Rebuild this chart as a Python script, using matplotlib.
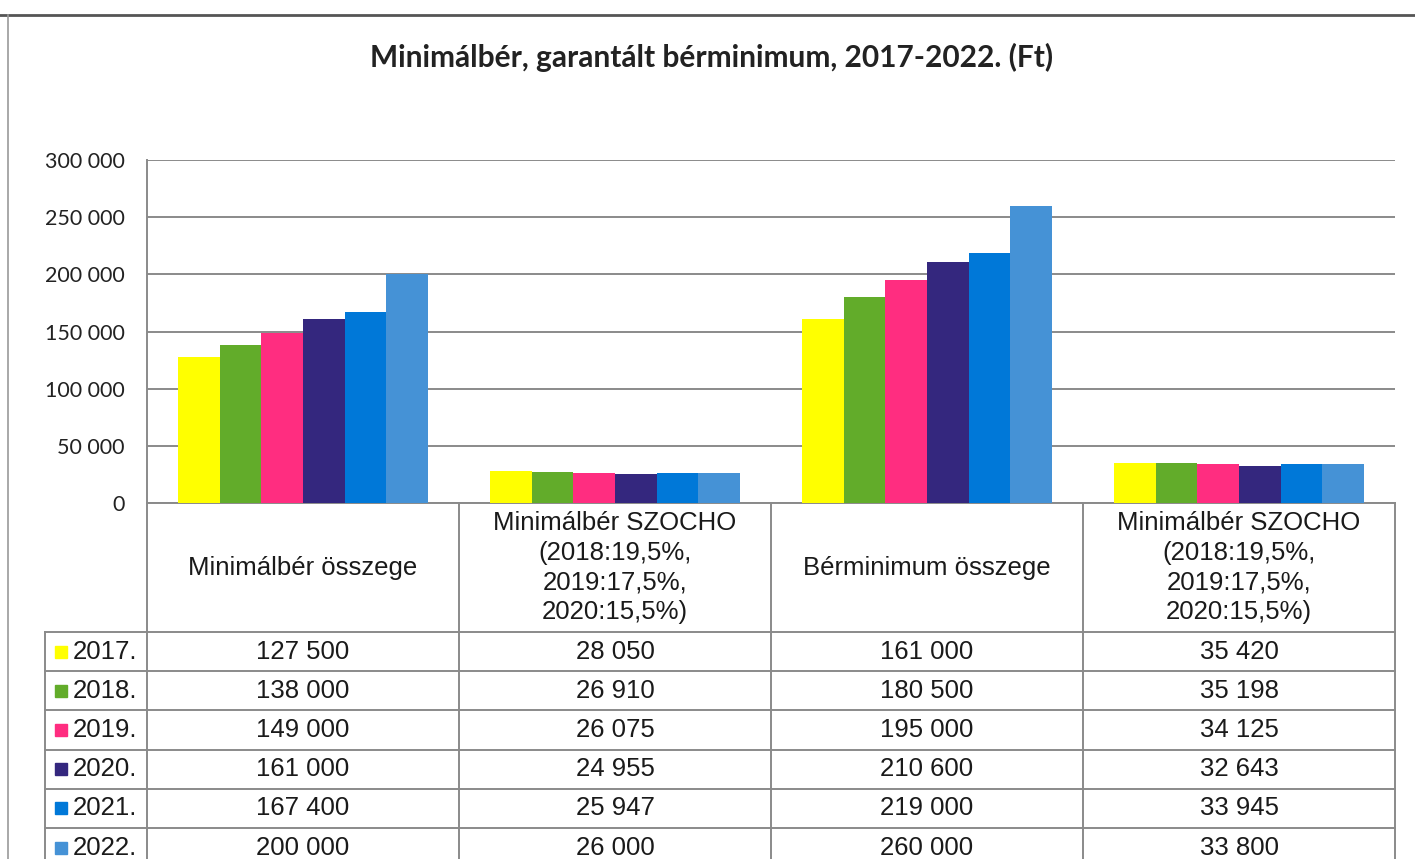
import matplotlib.pyplot as plt
import matplotlib.transforms as mtransforms
from matplotlib.lines import Line2D

# data
categories = ["Minimálbér összege",
              "Minimálbér SZOCHO\n(2018:19,5%,\n2019:17,5%,\n2020:15,5%)",
              "Bérminimum összege",
              "Minimálbér SZOCHO\n(2018:19,5%,\n2019:17,5%,\n2020:15,5%)"]
years = ["2017.", "2018.", "2019.", "2020.", "2021.", "2022."]
minimalber = [127500, 138000, 149000, 161000, 167400, 200000]
minimalber_szocho = [28050, 26910, 26075, 24955, 25947, 26000]
berminimum = [161000, 180500, 195000, 210600, 219000, 260000]
berminimum_szocho = [35420, 35198, 34125, 32643, 33945, 33800]
colors = ["#FFFF00", "#62AC2A", "#FF2D80", "#34277E", "#0078D8", "#4592D6"]

series = [minimalber, minimalber_szocho, berminimum, berminimum_szocho]

W, H = 1415, 859
fig = plt.figure(figsize=(W / 100, H / 100), dpi=100)
ax = fig.add_axes([147 / W, 1 - 503 / H, (1395 - 147) / W, 343 / H])

# bars: one colour per year
n = len(years)
bw = 0.8 / n
for i, y in enumerate(years):
    vals = [s[i] for s in series]
    xs = [c + (i - (n - 1) / 2) * bw for c in range(len(categories))]
    ax.bar(xs, vals, width=bw, color=colors[i], zorder=3)

ax.set_xlim(-0.5, 3.5)
ax.set_ylim(0, 300000)
ax.set_yticks(range(0, 300001, 50000))
ax.set_yticklabels([f"{v:,}".replace(",", " ") for v in range(0, 300001, 50000)],
                   fontfamily="Lato", fontsize=15.5, color="#222222")
ax.tick_params(axis="y", length=0, pad=16)
ax.set_xticks([])
ax.grid(axis="y", color="#8a8a8a", linewidth=1.4, zorder=0)
for sp in ["top", "right", "bottom"]:
    ax.spines[sp].set_visible(False)
ax.spines["left"].set_color("#8a8a8a")
ax.spines["left"].set_linewidth(1.4)

# data table under the plot
tr = mtransforms.blended_transform_factory(ax.transData, ax.transAxes)
lc = "#8a8a8a"
lw = 1.4
ax_h = 343
hdr_bot = -(632 - 503) / ax_h
row_h = 39.2 / ax_h
x_lab = -0.5 - (147 - 45) / 312
y_end = -(870 - 503) / ax_h
tfont = dict(fontfamily="Liberation Sans", fontsize=18.5, color="#1a1a1a")

def hline(x0, x1, y):
    ax.add_line(Line2D([x0, x1], [y, y], transform=tr, color=lc, lw=lw, clip_on=False))

def vline(x, y0, y1):
    ax.add_line(Line2D([x, x], [y0, y1], transform=tr, color=lc, lw=lw, clip_on=False))

hline(-0.5, 3.5, 0)
for b in [-0.5, 0.5, 1.5, 2.5, 3.5]:
    vline(b, 0, y_end)
vline(x_lab, hdr_bot, y_end)
for r in range(n + 1):
    hline(x_lab, 3.5, hdr_bot - r * row_h)

for c, name in enumerate(categories):
    ax.text(c, hdr_bot / 2, name, transform=tr, ha="center", va="center",
            linespacing=1.3, **tfont)

for r, y in enumerate(years):
    yc = hdr_bot - (r + 0.5) * row_h
    ax.plot([x_lab + 0.05], [yc], marker="s", markersize=8, color=colors[r],
            transform=tr, clip_on=False)
    ax.text(x_lab + 0.09, yc, y, transform=tr, ha="left", va="center", **tfont)
    for c, s in enumerate(series):
        ax.text(c, yc, f"{s[r]:,}".replace(",", " "), transform=tr,
                ha="center", va="center", **tfont)

# title and outer frame
fig.text(0.503, 1 - 57 / H, "Minimálbér, garantált bérminimum, 2017-2022. (Ft)",
         ha="center", va="center", fontfamily="Lato", fontweight="bold",
         fontsize=21.5, color="#222222")
fig.add_artist(Line2D([0, 1], [1 - 15 / H, 1 - 15 / H], transform=fig.transFigure,
                      color="#555555", lw=2))
fig.add_artist(Line2D([8 / W, 8 / W], [0, 1 - 15 / H], transform=fig.transFigure,
                      color="#999999", lw=1.2))

fig.savefig("out.png", dpi=100)
